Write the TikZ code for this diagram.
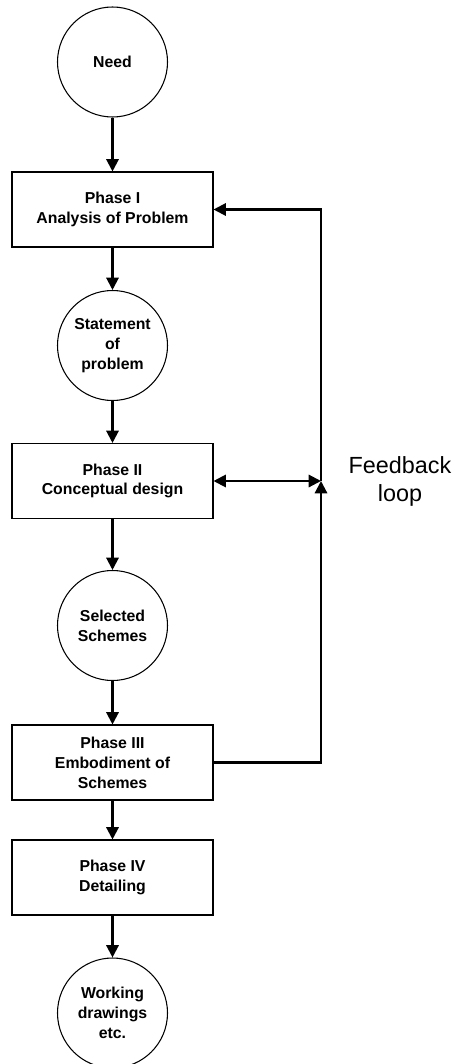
\documentclass[tikz,border=0pt]{standalone}
\usepackage{fontspec}
\setmainfont{Liberation Sans}
\usetikzlibrary{arrows.meta}
\tikzset{
  every picture/.style={line width=0.6pt},
  stage/.style={draw, rectangle, align=center, minimum width=4.02cm, minimum height=1.5cm,
                inner sep=2pt, font=\fontsize{9}{11.3}\selectfont\bfseries},
  state/.style={draw, circle, align=center, minimum size=2.2cm, inner sep=0pt,
                font=\fontsize{9}{11.3}\selectfont\bfseries},
  flow/.style={-{Triangle[length=7pt, width=7pt]}, line width=1.2pt},
  twoway/.style={{Triangle[length=7pt, width=7pt]}-{Triangle[length=7pt, width=7pt]}, line width=1.2pt},
  note/.style={font=\fontsize{13.3}{15.9}\selectfont, align=center},
}

\begin{document}
\begin{tikzpicture}
  \useasboundingbox (0,0) rectangle (9.2,-21.28);
  % circles: name, depth below the top (cm), text
  \foreach \n/\y/\txt in {
      need/1.24/{Need},
      stmt/6.91/{Statement\\of\\problem},
      sel/12.51/{Selected\\Schemes},
      work/20.26/{Working\\drawings\\etc.}} {
    \node[state] (\n) at (2.25, -\y) {\txt};
  }
  % phase boxes
  \foreach \n/\y/\txt in {
      ph1/4.19/{Phase I\\Analysis of Problem},
      ph2/9.62/{Phase II\\Conceptual design},
      ph3/15.25/{Phase III\\Embodiment of\\Schemes},
      ph4/17.55/{Phase IV\\Detailing}} {
    \node[stage] (\n) at (2.25, -\y) {\txt};
  }
  \foreach \a/\b in {need/ph1, ph1/stmt, stmt/ph2, ph2/sel, sel/ph3, ph3/ph4, ph4/work}
    \draw[flow] (\a) -- (\b);
  % feedback loop
  \coordinate (fb) at (6.42, -9.62);
  \draw[flow] (ph3.east) -| (fb);
  \draw[flow] (fb) |- (ph1.east);
  \draw[twoway] (ph2.east) -- (fb);
  \node[note] (fbnote) at (8.0, -9.62) {Feedback\\loop};
\end{tikzpicture}
\end{document}
